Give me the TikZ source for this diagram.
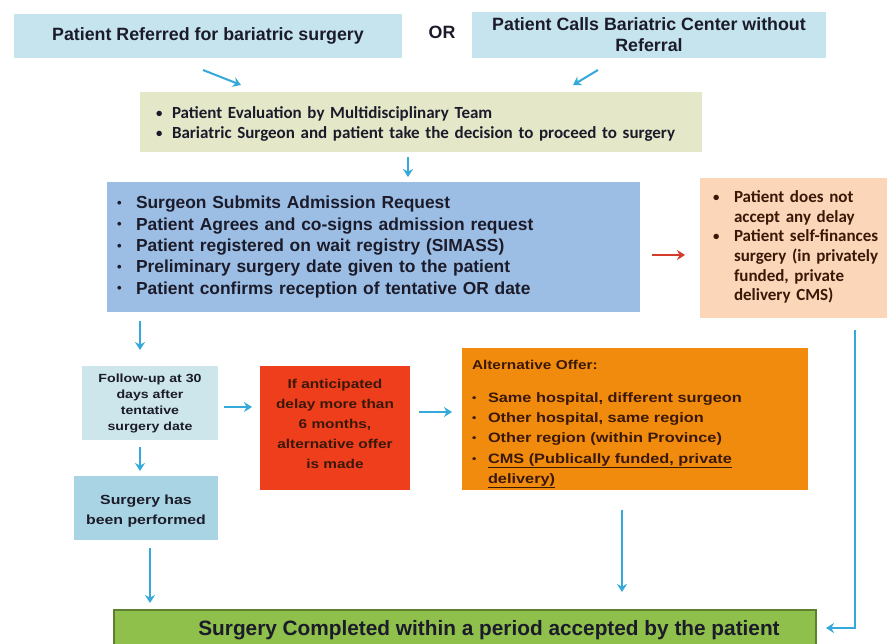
\documentclass[tikz,border=0pt]{standalone}
\usepackage{fontspec}
\setmainfont{Liberation Sans}
\newfontfamily\carl{Carlito}
\newfontfamily\lsw{Liberation Sans}[FakeStretch=1.2]
\usetikzlibrary{arrows.meta}
\definecolor{topblue}{HTML}{C6E4EE}
\definecolor{evalgreen}{HTML}{E4E8C9}
\definecolor{reqblue}{HTML}{9CBEE5}
\definecolor{peach}{HTML}{FCD6B8}
\definecolor{follow}{HTML}{CDE6EC}
\definecolor{redbox}{HTML}{EF3E1C}
\definecolor{orangebox}{HTML}{F18B0E}
\definecolor{donebox}{HTML}{A9D4E3}
\definecolor{greenbox}{HTML}{8EC04B}
\definecolor{greenedge}{HTML}{5E7F2E}
\definecolor{arrcyan}{HTML}{35A9D9}
\definecolor{arrred}{HTML}{D53A2B}
\definecolor{ink}{HTML}{1B1B2A}
\definecolor{brownink}{HTML}{3A1808}
\newcommand{\smallbul}{\raisebox{0.07em}{\scalebox{0.75}{\textbullet}}}
\newcommand{\bl}[1]{\makebox[#1][l]{\smallbul}}
\tikzset{
  box/.style={rectangle, inner sep=0pt, align=center, text=ink},
  txt/.style={inner sep=0pt, text=ink},
  arr/.style={draw=arrcyan, line width=2pt, -{Stealth[length=8pt,width=10pt]}},
  redarr/.style={draw=arrred, line width=2pt, -{Stealth[length=8pt,width=10pt]}},
  topfont/.style={font=\bfseries\fontsize{17.8}{21}\selectfont},
}
\begin{document}
\begin{tikzpicture}[x=1pt,y=-1pt]
\useasboundingbox (0,0) rectangle (891,643);
\fill[white] (0,0) rectangle (891,643);
\clip (0,0) rectangle (891,643);

% top row
\node[box, fill=topblue, minimum width=388pt, minimum height=44pt, topfont] (ref) at (208,36) {Patient Referred for bariatric surgery};
\node[box, topfont] (or) at (442,32) {OR};
\node[box, fill=topblue, minimum width=354pt, minimum height=46pt, topfont] (calls) at (649,35) {Patient Calls Bariatric Center without\\Referral};

% evaluation
\node[box, fill=evalgreen, minimum width=562pt, minimum height=60pt] (eval) at (421,122) {};
\node[txt, text width=540pt, align=left, font=\carl\bfseries\fontsize{17}{20}\selectfont] (evaltext) at (426,124)
  {\bl{16pt}Patient Evaluation by Multidisciplinary Team\\
   \bl{16pt}Bariatric Surgeon and patient take the decision to proceed to surgery};

% admission request
\node[box, fill=reqblue, minimum width=533pt, minimum height=130pt] (req) at (373.5,247) {};
\node[txt, text width=515pt, align=left, font=\bfseries\fontsize{17.4}{21.3}\selectfont] (reqtext) at (374.5,247)
  {\bl{19pt}Surgeon Submits Admission Request\\
   \bl{19pt}Patient Agrees and co-signs admission request\\
   \bl{19pt}Patient registered on wait registry (SIMASS)\\
   \bl{19pt}Preliminary surgery date given to the patient\\
   \bl{19pt}Patient confirms reception of tentative OR date};

% self finance
\node[box, fill=peach, minimum width=187pt, minimum height=140pt] (self) at (793.5,248) {};
\node[txt, text width=172pt, align=left, text=brownink, font=\carl\bfseries\fontsize{17}{19.6}\selectfont] (selftext) at (799,247)
  {\bl{21pt}Patient does not\\
   \hphantom{\bl{21pt}}accept any delay\\
   \bl{21pt}Patient self-finances\\
   \hphantom{\bl{21pt}}surgery (in privately\\
   \hphantom{\bl{21pt}}funded, private\\
   \hphantom{\bl{21pt}}delivery CMS)};

% follow-up
\node[box, fill=follow, minimum width=136pt, minimum height=74pt,
      font=\lsw\bfseries\fontsize{11.8}{16}\selectfont] (follow) at (150,403)
  {Follow-up at 30\\days after\\tentative\\surgery date};

% delay
\node[box, fill=redbox, minimum width=150pt, minimum height=124pt] (delay) at (335,428) {};
\node[txt, align=center, text=brownink, font=\lsw\bfseries\fontsize{12.8}{20.2}\selectfont] (delaytext) at (335,424)
  {If anticipated\\delay more than\\6 months,\\alternative offer\\is made};

% alternative offer
\node[box, fill=orangebox, minimum width=346pt, minimum height=142pt] (alt) at (635,419) {};
\node[txt, text width=336pt, align=left, text=brownink, font=\lsw\bfseries\fontsize{13.6}{20.2}\selectfont] (alttext) at (640,424)
  {{\fontsize{12.8}{14}\selectfont Alternative Offer:}\\[13pt]
   \bl{16pt}Same hospital, different surgeon\\
   \bl{16pt}Other hospital, same region\\
   \bl{16pt}Other region (within Province)\\
   \bl{16pt}\underline{CMS (Publically funded, private}\\
   \hphantom{\bl{16pt}}\underline{delivery)}};

% performed
\node[box, fill=donebox, minimum width=144pt, minimum height=64pt] (done) at (146,508) {};
\node[txt, align=center, font=\lsw\bfseries\fontsize{13.2}{20}\selectfont] (donetext) at (146,511)
  {Surgery has\\been performed};

% completed
\node[box, fill=greenbox, draw=greenedge, line width=1.5pt, minimum width=702pt, minimum height=60pt] (final) at (465,640) {};
\node[txt, font=\bfseries\fontsize{20.8}{24}\selectfont] (finaltext) at (489,630)
  {Surgery Completed within a period accepted by the patient};

% arrow end coordinates
\coordinate (a1s) at (203,70);  \coordinate (a1e) at (241,85);
\coordinate (a2s) at (598,70);  \coordinate (a2e) at (573,85);
\coordinate (a3s) at (408,157); \coordinate (a3e) at (408,177);
\coordinate (a4s) at (652,255); \coordinate (a4e) at (685,255);
\coordinate (a5s) at (140,321); \coordinate (a5e) at (140,350);
\coordinate (a6s) at (224,407); \coordinate (a6e) at (252,407);
\coordinate (a7s) at (419,412); \coordinate (a7e) at (452,412);
\coordinate (a8s) at (140,447); \coordinate (a8e) at (140,471);
\coordinate (a9s) at (150,548); \coordinate (a9e) at (150,603);
\coordinate (a10s) at (622,510); \coordinate (a10e) at (622,592);
\coordinate (a11s) at (855,330); \coordinate (a11m) at (855,628); \coordinate (a11e) at (826,628);

\draw[arr] (a1s) -- (a1e);
\draw[arr] (a2s) -- (a2e);
\draw[arr] (a3s) -- (a3e);
\draw[redarr] (a4s) -- (a4e);
\draw[arr] (a5s) -- (a5e);
\draw[arr] (a6s) -- (a6e);
\draw[arr] (a7s) -- (a7e);
\draw[arr] (a8s) -- (a8e);
\draw[arr] (a9s) -- (a9e);
\draw[arr] (a10s) -- (a10e);
\draw[arr, line width=1.6pt] (a11s) -- (a11m) -- (a11e);
\end{tikzpicture}
\end{document}
